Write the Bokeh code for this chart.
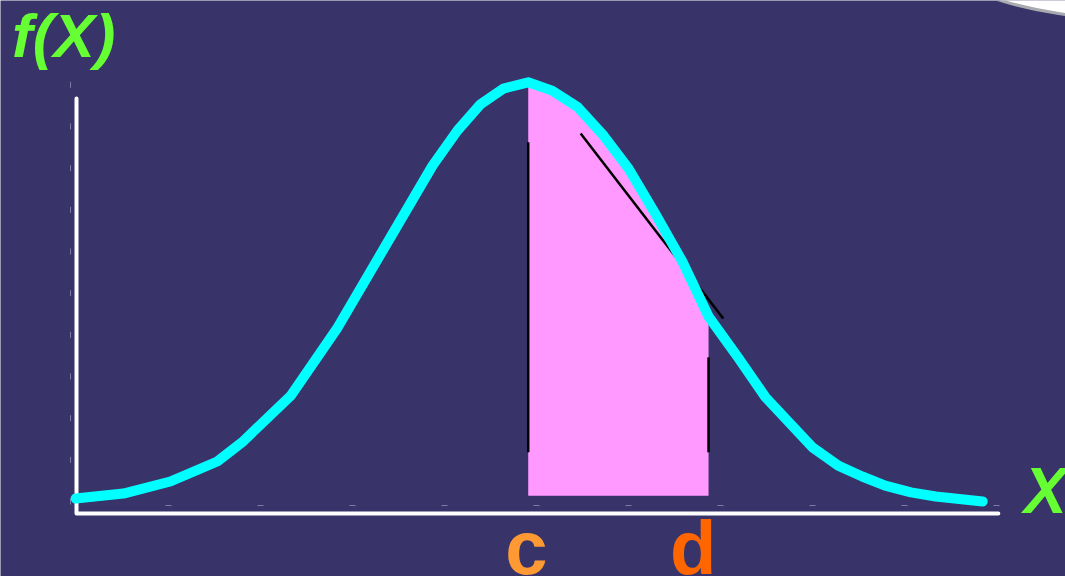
from bokeh.plotting import figure
from bokeh.models import Label, Range1d
from bokeh.embed import file_html
from bokeh.resources import INLINE

# ---- data ----
curve_x = [-0.01, 0.51, 1.02, 1.53, 1.80, 2.33, 2.84, 3.36, 3.87, 4.14, 4.39, 4.64,
           4.91, 5.17, 5.45, 5.73, 6.00, 6.29, 6.59, 6.87, 7.19, 7.49, 8.00, 8.28,
           8.54, 8.79, 9.07, 9.34, 9.85]
curve_y = [0.07, 0.19, 0.48, 0.96, 1.42, 2.54, 4.18, 6.14, 8.06, 8.90, 9.53, 9.91,
           10.06, 9.86, 9.46, 8.78, 7.99, 6.91, 5.74, 4.44, 3.46, 2.50, 1.30, 0.86,
           0.60, 0.38, 0.22, 0.12, 0.00]
c_value = 4.91
d_value = 6.87
shade_base = 0.14
x_ticks = [1, 2, 3, 4, 5, 6, 7, 8, 9, 10]
y_ticks = [0, 1, 2, 3, 4, 5, 6, 7, 8, 9, 10]
axis_x_end = 10.02
axis_y_end = 9.67
axis_origin_y = -0.29
c_line_top = 8.62
d_line_top = 3.46
guide_bottom = 1.18
slope_x = [5.48, 7.03]
slope_y = [8.83, 4.39]

W, H = 1065, 576
p = figure(width=W, height=H, output_backend="svg", toolbar_location=None,
           x_axis_type=None, y_axis_type=None, min_border=0,
           x_range=Range1d(-76 / 92, (W - 76) / 92),
           y_range=Range1d((501 - H) / 41.67, 501 / 41.67))
p.grid.visible = False
p.outline_line_color = None
p.background_fill_color = "#38346a"
p.border_fill_color = "#38346a"

# callout shape in the corner
p.ellipse(x=[11.67], y=[13.94], width=[5.41], height=[4.8],
          fill_color="white", line_color="#a9a9b0", line_width=3)

# shaded area between c and d
sx = [x for x in curve_x if c_value <= x <= d_value]
sy = [y for x, y in zip(curve_x, curve_y) if c_value <= x <= d_value]
p.varea(x=sx, y1=[shade_base] * len(sx), y2=sy, fill_color="#ff99ff")

# black guide lines
p.segment(x0=[c_value, d_value, slope_x[0]], y0=[guide_bottom, guide_bottom, slope_y[0]],
          x1=[c_value, d_value, slope_x[1]], y1=[c_line_top, d_line_top, slope_y[1]],
          line_color="black", line_width=2.5)

# faint tick dashes
p.scatter(x=x_ticks, y=[-0.096] * len(x_ticks), marker="dash", size=6,
          line_color="#7e7ca6", line_width=1)
p.scatter(x=[-0.065] * len(y_ticks), y=y_ticks, marker="dash", size=6, angle=1.5708,
          line_color="#7e7ca6", line_width=1)

# axes
p.line(x=[0, 0, axis_x_end], y=[axis_y_end, axis_origin_y, axis_origin_y],
       line_color="white", line_width=4, line_cap="round", line_join="round")

# curve
p.line(x=curve_x, y=curve_y, line_color="#00ffff", line_width=10,
       line_cap="round", line_join="round")

font = "Liberation Sans"
p.add_layout(Label(x=-0.70, y=11.18, text="f(X)", text_font=font, text_font_size="62px",
                   text_font_style="bold italic", text_color="#66ff33",
                   text_baseline="alphabetic"))
p.add_layout(Label(x=10.30, y=0.24, text="X", text_font=font, text_font_size="64px",
                   text_font_style="bold italic", text_color="#66ff33",
                   text_baseline="alphabetic"))
p.add_layout(Label(x=4.66, y=-1.11, text="c", text_font=font, text_font_size="76px",
                   text_font_style="bold", text_color="#ff9933",
                   text_baseline="alphabetic"))
p.add_layout(Label(x=6.45, y=-1.11, text="d", text_font=font, text_font_size="76px",
                   text_font_style="bold", text_color="#ff6600",
                   text_baseline="alphabetic"))

open("out.html", "w").write(file_html(p, INLINE))
